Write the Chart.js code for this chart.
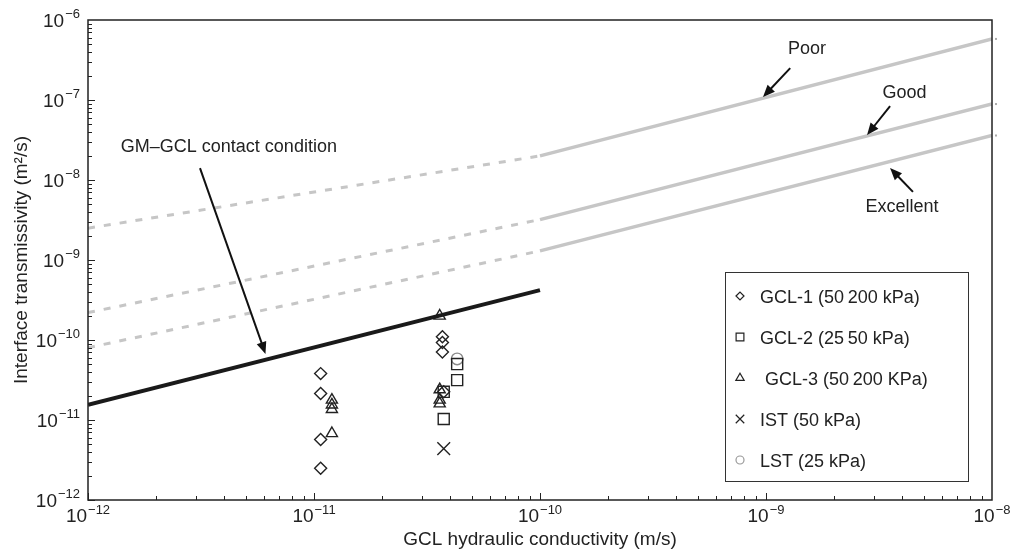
<!DOCTYPE html>
<html>
<head>
<meta charset="utf-8">
<script src="https://cdn.jsdelivr.net/npm/chart.js@4.4.1/dist/chart.umd.min.js"></script>
<style>
html,body{margin:0;padding:0;background:#fff;}
</style>
</head>
<body>
<canvas id="grafico" width="1012" height="555"></canvas>
<script>
// values (log-log axes)
const gcl1X = [1.07e-11, 1.07e-11, 1.07e-11, 1.07e-11, 3.7e-11, 3.7e-11, 3.7e-11, 3.75e-11];
const gcl1Y = [3.8e-11, 2.15e-11, 5.7e-12, 2.5e-12, 1.1e-10, 9.3e-11, 7.1e-11, 2.25e-11];
const gcl2X = [4.3e-11, 4.3e-11, 3.75e-11, 3.75e-11];
const gcl2Y = [5.0e-11, 3.15e-11, 2.25e-11, 1.03e-11];
const gcl3X = [1.2e-11, 1.2e-11, 1.2e-11, 1.2e-11, 3.6e-11, 3.6e-11, 3.6e-11, 3.6e-11];
const gcl3Y = [1.78e-11, 1.55e-11, 1.36e-11, 6.8e-12, 2.0e-10, 2.4e-11, 1.78e-11, 1.6e-11];
const istX = [3.75e-11];
const istY = [4.4e-12];
const lstX = [4.3e-11];
const lstY = [5.8e-11];

// contact condition lines: dashed from 1e-12 to 1e-10, solid from 1e-10 to 1e-8
const lineX = [1e-12, 1e-10, 1e-8];
const poorY = [2.5e-9, 2.0e-8, 5.8e-7];
const goodY = [2.2e-10, 3.2e-9, 8.9e-8];
const excY = [8.0e-11, 1.3e-9, 3.6e-8];
const contactX = [1e-12, 1e-10];
const contactY = [1.55e-11, 4.2e-10];

const xExp = [-12, -11, -10, -9, -8];
const yExp = [-12, -11, -10, -9, -8, -7, -6];

const legendItens = [
  {text: 'GCL-1 (50\u2009200 kPa)', style: 'rectRot', r: 4, color: '#222'},
  {text: 'GCL-2 (25\u200950 kPa)', style: 'rect', r: 5.5, color: '#222'},
  {text: ' GCL-3 (50\u2009200 KPa)', style: 'triangle', r: 4.8, color: '#222'},
  {text: 'IST (50 kPa)', style: 'crossRot', r: 6, color: '#222'},
  {text: 'LST (25 kPa)', style: 'circle', r: 4, color: '#999'}
];

// annotations in data coordinates
const notas = [
  {text: 'Poor', x: 1.52e-9, y: 4.3e-7},
  {text: 'Good', x: 4.1e-9, y: 1.22e-7},
  {text: 'Excellent', x: 4.0e-9, y: 4.6e-9},
  {text: 'GM\u2013GCL contact condition', x: 4.2e-12, y: 2.58e-8}
];
const setas = [
  [1.28e-9, 2.5e-7, 9.7e-10, 1.09e-7],
  [3.54e-9, 8.4e-8, 2.8e-9, 3.65e-8],
  [4.47e-9, 7.1e-9, 3.54e-9, 1.41e-8],
  [3.13e-12, 1.41e-8, 6.1e-12, 6.7e-11]
];

const fonte = '"Liberation Sans", Arial, Helvetica, sans-serif';
const cor = '#222';

function pts(xs, ys) {
  return xs.map((x, i) => ({x: x, y: ys[i]}));
}

function marcador(label, xs, ys, style, r, color) {
  return {
    label: label, data: pts(xs, ys), showLine: false,
    pointStyle: style, pointRadius: r, pointHoverRadius: r,
    pointBorderColor: color, pointBackgroundColor: 'rgba(0,0,0,0)',
    pointBorderWidth: 1.4
  };
}

function linha(label, xs, ys, color, width, dash) {
  return {
    label: label, data: pts(xs, ys), showLine: true, pointRadius: 0,
    borderColor: color, borderWidth: width, borderDash: dash || [],
    borderCapStyle: 'butt', fill: false
  };
}

const cinza = '#c6c6c6';

const datasets = [
  linha('Poor dashed', lineX.slice(0, 2), poorY.slice(0, 2), cinza, 3, [7, 9]),
  linha('Poor', lineX.slice(1), poorY.slice(1), cinza, 3.5),
  linha('Good dashed', lineX.slice(0, 2), goodY.slice(0, 2), cinza, 3, [7, 9]),
  linha('Good', lineX.slice(1), goodY.slice(1), cinza, 3.5),
  linha('Excellent dashed', lineX.slice(0, 2), excY.slice(0, 2), cinza, 3, [7, 9]),
  linha('Excellent', lineX.slice(1), excY.slice(1), cinza, 3.5),
  linha('GM-GCL contact condition', contactX, contactY, '#1a1a1a', 4),
  marcador('GCL-1', gcl1X, gcl1Y, 'rectRot', 6, '#222'),
  marcador('GCL-2', gcl2X, gcl2Y, 'rect', 7.8, '#222'),
  marcador('GCL-3', gcl3X, gcl3Y, 'triangle', 6.4, '#222'),
  marcador('IST', istX, istY, 'crossRot', 9, '#222'),
  marcador('LST', lstX, lstY, 'circle', 5.8, '#8a8a8a')
];

function pot10(ctx, exp, x, y, align, dy) {
  ctx.font = '19px ' + fonte;
  const w1 = ctx.measureText('10').width;
  ctx.font = '13px ' + fonte;
  const e = '\u2212' + Math.abs(exp);
  const w2 = ctx.measureText(e).width;
  let x0 = align === 'right' ? x - w1 - w2 - 1 : x - (w1 + w2 + 1) / 2;
  ctx.textAlign = 'left';
  ctx.textBaseline = 'middle';
  ctx.font = '19px ' + fonte;
  ctx.fillText('10', x0, y);
  ctx.font = '13px ' + fonte;
  ctx.fillText(e, x0 + w1 + 1, y - dy);
}

function seta(ctx, x1, y1, x2, y2) {
  const ang = Math.atan2(y2 - y1, x2 - x1);
  const L = 12, W = 5;
  ctx.beginPath();
  ctx.moveTo(x1, y1);
  ctx.lineTo(x2 - Math.cos(ang) * L * 0.8, y2 - Math.sin(ang) * L * 0.8);
  ctx.lineWidth = 2;
  ctx.strokeStyle = '#111';
  ctx.stroke();
  ctx.beginPath();
  ctx.moveTo(x2, y2);
  ctx.lineTo(x2 - Math.cos(ang) * L - Math.sin(ang) * W, y2 - Math.sin(ang) * L + Math.cos(ang) * W);
  ctx.lineTo(x2 - Math.cos(ang) * L + Math.sin(ang) * W, y2 - Math.sin(ang) * L - Math.cos(ang) * W);
  ctx.closePath();
  ctx.fillStyle = '#111';
  ctx.fill();
}

const enfeites = {
  id: 'enfeites',
  afterDraw(chart) {
    const ctx = chart.ctx;
    const a = chart.chartArea;
    const sx = chart.scales.x, sy = chart.scales.y;
    ctx.save();

    // ticks inward, major and minor
    ctx.strokeStyle = cor;
    ctx.lineWidth = 1;
    for (let k = -12; k < -8; k++) {
      for (let m = 1; m <= 9; m++) {
        const px = Math.round(sx.getPixelForValue(m * Math.pow(10, k))) + 0.5;
        const len = m === 1 ? 7 : 4;
        ctx.beginPath(); ctx.moveTo(px, a.bottom); ctx.lineTo(px, a.bottom - len); ctx.stroke();
      }
    }
    for (let k = -12; k < -6; k++) {
      for (let m = 1; m <= 9; m++) {
        const py = Math.round(sy.getPixelForValue(m * Math.pow(10, k))) + 0.5;
        const len = m === 1 ? 7 : 4;
        ctx.beginPath(); ctx.moveTo(a.left, py); ctx.lineTo(a.left + len, py); ctx.stroke();
      }
    }

    // frame
    ctx.lineWidth = 1.5;
    ctx.strokeRect(a.left, a.top, a.right - a.left, a.bottom - a.top);

    // little grey stubs of the lines just past the right border
    ctx.fillStyle = '#aaa';
    [poorY, goodY, excY].forEach(ys => {
      ctx.fillRect(a.right + 3, sy.getPixelForValue(ys[2]) - 1, 2, 2);
    });

    // tick labels
    ctx.fillStyle = cor;
    xExp.forEach(e => pot10(ctx, e, sx.getPixelForValue(Math.pow(10, e)), a.bottom + 17, 'center', 7));
    yExp.forEach(e => pot10(ctx, e, a.left - 8, sy.getPixelForValue(Math.pow(10, e)) + 2, 'right', 8));

    // notes and arrows
    ctx.font = '18px ' + fonte;
    ctx.textAlign = 'center';
    ctx.textBaseline = 'middle';
    notas.forEach(n => ctx.fillText(n.text, sx.getPixelForValue(n.x), sy.getPixelForValue(n.y)));
    setas.forEach(s => seta(ctx, sx.getPixelForValue(s[0]), sy.getPixelForValue(s[1]),
      sx.getPixelForValue(s[2]), sy.getPixelForValue(s[3])));

    // legend box
    const lx = a.right - 267, ly = a.top + 252, lw = 243, lh = 209;
    ctx.fillStyle = '#fff';
    ctx.fillRect(lx, ly, lw, lh);
    ctx.strokeStyle = '#333';
    ctx.lineWidth = 1;
    ctx.strokeRect(lx + 0.5, ly + 0.5, lw, lh);
    legendItens.forEach((it, i) => {
      const yy = ly + 26 + i * 41;
      ctx.strokeStyle = it.color;
      ctx.fillStyle = 'rgba(0,0,0,0)';
      ctx.lineWidth = 1.2;
      Chart.helpers.drawPoint(ctx, {pointStyle: it.style, radius: it.r, borderWidth: 1.2, rotation: 0}, lx + 15, yy - 2);
      ctx.fillStyle = cor;
      ctx.font = '18px ' + fonte;
      ctx.textAlign = 'left';
      ctx.textBaseline = 'middle';
      ctx.fillText(it.text, lx + 35, yy);
    });
    ctx.restore();
  }
};

Chart.defaults.font.family = fonte;
Chart.defaults.color = cor;

new Chart(document.getElementById('grafico'), {
  type: 'scatter',
  data: {datasets: datasets},
  options: {
    responsive: false,
    animation: false,
    devicePixelRatio: 1,
    layout: {padding: {left: 0, top: 20, right: 20, bottom: 0}},
    plugins: {legend: {display: false}, tooltip: {enabled: false}},
    scales: {
      x: {
        type: 'logarithmic', min: 1e-12, max: 1e-8,
        grid: {display: false}, border: {display: false},
        ticks: {display: false},
        title: {display: true, text: 'GCL hydraulic conductivity (m/s)', color: cor,
          font: {size: 19}, padding: {top: 0, bottom: 4}},
        afterFit(s) { s.height = 55; }
      },
      y: {
        type: 'logarithmic', min: 1e-12, max: 1e-6,
        grid: {display: false}, border: {display: false},
        ticks: {display: false},
        title: {display: true, text: 'Interface transmissivity (m\u00b2/s)', color: cor,
          font: {size: 19}, padding: {top: 10, bottom: 0}},
        afterFit(s) { s.width = 88; }
      }
    }
  },
  plugins: [enfeites]
});
</script>
</body>
</html>
